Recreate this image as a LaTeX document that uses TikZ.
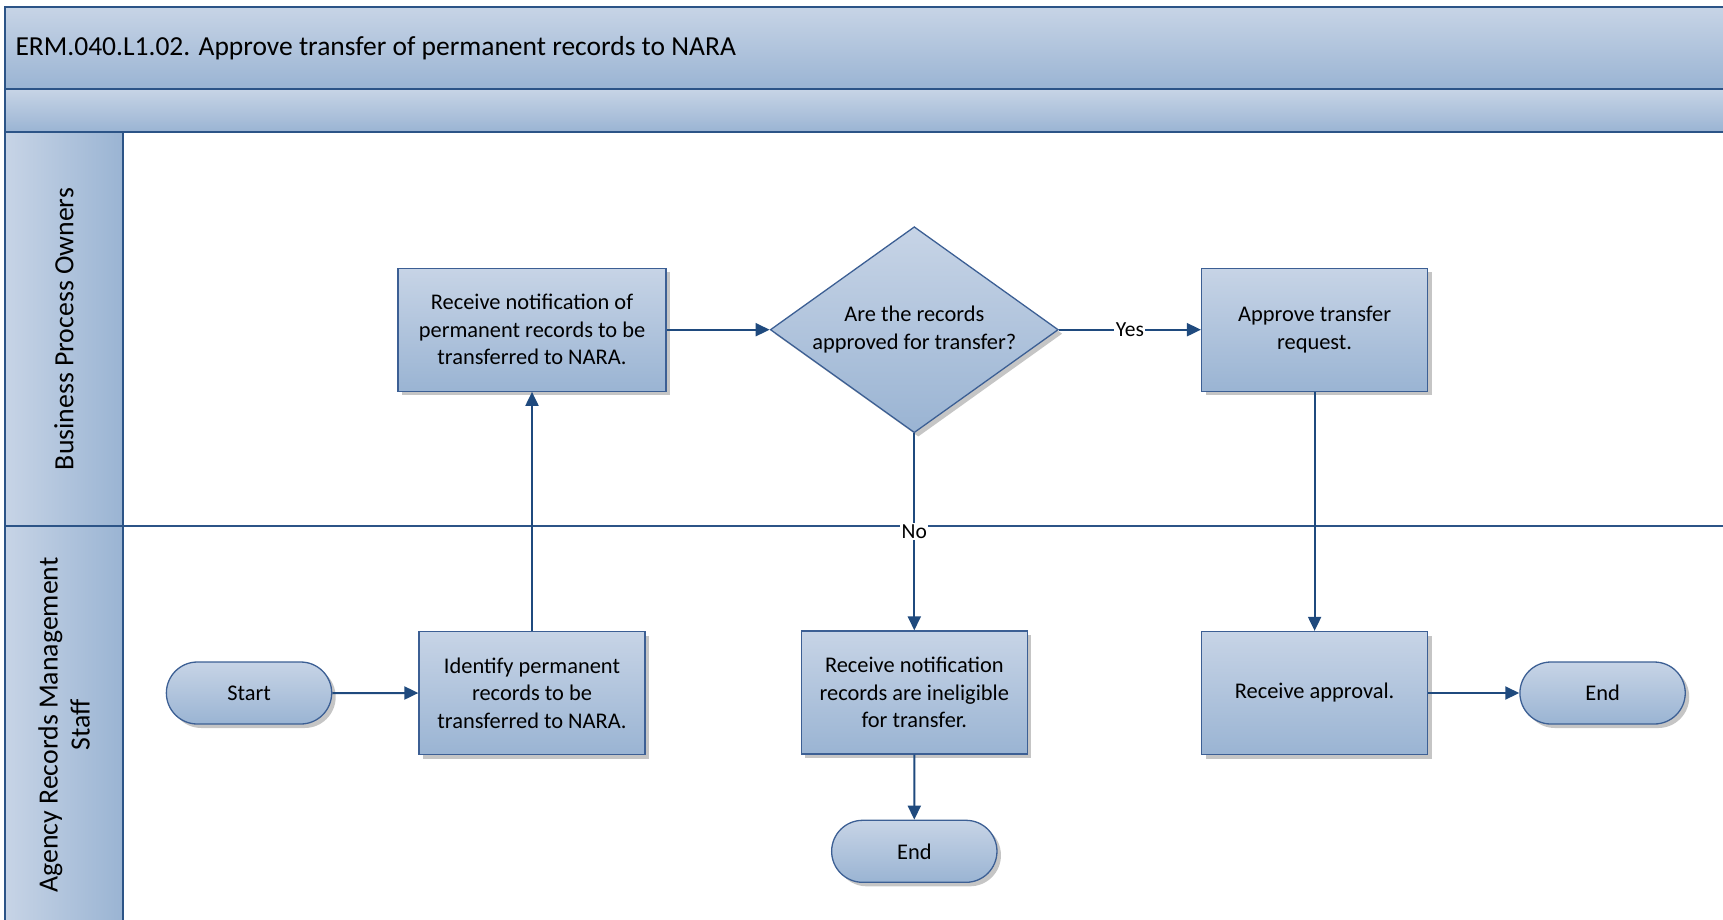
\documentclass[tikz,border=0pt]{standalone}
\usepackage{fontspec}
\setmainfont{Carlito}
\usetikzlibrary{positioning,shapes.geometric,shapes.misc,shadows,arrows.meta}

\definecolor{bandtop}{RGB}{199,212,230}
\definecolor{bandbot}{RGB}{154,180,211}
\definecolor{laneline}{RGB}{44,84,135}
\definecolor{flow}{RGB}{31,74,126}
\definecolor{boxedge}{RGB}{60,95,148}

\tikzset{
  shade/.style={draw=boxedge, line width=1.3pt, top color=bandtop, bottom color=bandbot,
    drop shadow={shadow xshift=4pt, shadow yshift=-4pt, fill=black!45, opacity=.5}},
  act/.style={shade, minimum width=226pt, minimum height=123pt,
    align=center, inner sep=0pt, font=\fontsize{22.4}{27.5}\selectfont},
  term/.style={shade, rounded rectangle, minimum width=172pt, minimum height=62pt,
    font=\fontsize{22.4}{27.5}\selectfont},
  dec/.style={shade, diamond, aspect=1.4, minimum width=288pt, minimum height=206pt,
    inner sep=0pt, align=center, font=\fontsize{22.4}{27.5}\selectfont},
  flowline/.style={draw=flow, line width=2pt, -{Triangle[width=13pt,length=14pt]}},
  tag/.style={fill=white, inner sep=1.5pt, font=\fontsize{21.5}{24}\selectfont}
}

\begin{document}
\begin{tikzpicture}[x=1pt, y=1pt]
  \useasboundingbox (0,0) rectangle (1723,-919);
  \clip (0,0) rectangle (1723,-919);

  % pool header and lanes
  \fill[top color=bandtop, bottom color=bandbot] (5,-7) rectangle (1730,-89);
  \fill[top color=bandtop, bottom color=bandbot] (5,-89) rectangle (1730,-132);
  \fill[left color=bandtop, right color=bandbot] (5,-132) rectangle (123,-930);
  \draw[laneline, line width=1.5pt] (1730,-7) -- (5,-7) -- (5,-930);
  \draw[laneline, line width=1.5pt] (5,-89) -- (1730,-89);
  \draw[laneline, line width=1.5pt] (5,-132) -- (1730,-132);
  \draw[laneline, line width=1.5pt] (123,-132) -- (123,-930);
  \draw[laneline, line width=1.5pt] (5,-526) -- (1730,-526);

  \node[anchor=west, font=\fontsize{27.5}{32}\selectfont] (title) at (12,-48)
    {ERM.040.L1.02. Approve transfer of permanent records to NARA};
  \node[rotate=90, font=\fontsize{27.8}{32}\selectfont] (lane1) at (64,-329)
    {Business Process Owners};
  \node[rotate=90, align=center, font=\fontsize{27.8}{32}\selectfont] (lane2) at (64,-725)
    {Agency Records Management\\Staff};

  % steps
  \node[act] (ident) at (532,-693) {Identify permanent\\records to be\\transferred to NARA.};
  \node[term] (start) [left=86pt of ident] {Start};
  \node[act, minimum width=268pt] (recv) [above=239pt of ident]
    {Receive notification of\\permanent records to be\\transferred to NARA.};
  \node[dec] (q) [right=103pt of recv] {Are the records\\approved for transfer?};
  \node[act] (appr) [right=142pt of q] {Approve transfer\\request.};
  \node[act] (inel) [below=197pt of q] {Receive notification\\records are ineligible\\for transfer.};
  \node[term] (end1) [below=65pt of inel] {End};
  \node[act] (rapp) [below=239pt of appr] {Receive approval.};
  \node[term] (end2) [right=91pt of rapp] {End};

  \draw[flowline] (start) -- (ident);
  \draw[flowline] (ident) -- (recv);
  \draw[flowline] (recv) -- (q);
  \draw[flowline] (q) -- node[tag] {Yes} (appr);
  \draw[flowline] (q) -- node[tag] {No} (inel);
  \draw[flowline] (inel) -- (end1);
  \draw[flowline] (appr) -- (rapp);
  \draw[flowline] (rapp) -- (end2);
\end{tikzpicture}
\end{document}
